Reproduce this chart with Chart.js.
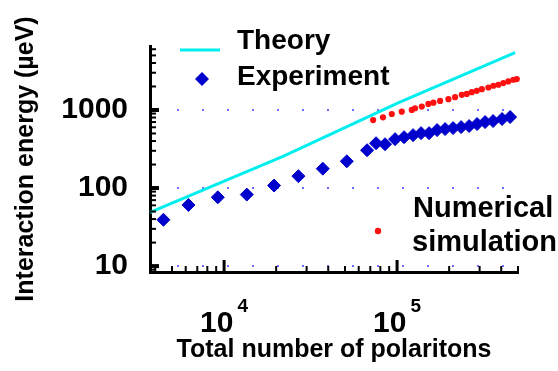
<!DOCTYPE html>
<html lang="en">
<head>
<meta charset="UTF-8">
<title>Interaction energy vs total number of polaritons</title>
<script src="https://cdn.jsdelivr.net/npm/chart.js"></script>
<style>
  html, body { margin: 0; padding: 0; background: #fff; }
  #chart { display: block; }
</style>
</head>
<body>
<canvas id="chart" width="558" height="371"></canvas>
<script>
// values (log-log axes)
const theoryN = [3730, 21900, 101400, 481000];
const theoryE = [48.7, 255, 1230, 5430];

const expN = [4460, 6220, 9200, 13530, 19450, 26890, 37200, 51200,
  67080, 75600, 85210, 97370, 109760, 123740, 137590, 153110, 170280,
  189450, 210720, 234430, 260870, 290000, 322600, 358900, 404500, 450100];
const expE = [39.2, 60.7, 76.1, 82.4, 107.7, 142, 177, 220,
  305, 375, 364, 423, 448, 476, 505, 505, 552,
  569, 586, 603, 622, 660, 700, 721, 766, 812];

const simN = [72700, 82900, 93200, 106400, 121600, 127000, 138900, 151700,
  162200, 177300, 198100, 216400, 236600, 252900, 270300, 289000,
  309000, 337200, 360400, 385200, 411500, 439700, 470000, 492000];
const simE = [743, 805, 888, 951, 1000, 1052, 1104, 1194,
  1242, 1306, 1374, 1459, 1563, 1607, 1691, 1758,
  1849, 1941, 2042, 2103, 2213, 2318, 2439, 2489];

const xMajor = [1e4, 1e5];
const yMajor = [10, 100, 1000];

const FONT = 'Liberation Sans, Arial, sans-serif';
const CYAN = '#00eeee';
const BLUE = '#0000cc';
const RED = '#ff1010';

const pts = (xs, ys) => xs.map((v, i) => ({ x: v, y: ys[i] }));

// 1..9 x 10^n ticks inside the range
function logTicks(min, max) {
  const out = [];
  for (let e = Math.floor(Math.log10(min)); e <= Math.ceil(Math.log10(max)); e++) {
    for (let m = 1; m < 10; m++) {
      const v = m * Math.pow(10, e);
      if (v >= min && v <= max) out.push({ value: v });
    }
  }
  return out;
}

// tick marks point into the plot
const inwardTicks = {
  id: 'inwardTicks',
  afterDraw(chart) {
    const { ctx, chartArea: a } = chart;
    const { x, y } = chart.scales;
    ctx.save();
    ctx.strokeStyle = '#000';
    x.ticks.forEach(t => {
      const px = x.getPixelForValue(t.value);
      const major = xMajor.includes(t.value);
      ctx.lineWidth = major ? 3 : 2;
      ctx.beginPath();
      ctx.moveTo(px, a.bottom);
      ctx.lineTo(px, a.bottom - (major ? 12 : 6));
      ctx.stroke();
    });
    y.ticks.forEach(t => {
      const py = y.getPixelForValue(t.value);
      const major = yMajor.includes(t.value);
      ctx.lineWidth = major ? 4 : 2;
      ctx.beginPath();
      ctx.moveTo(a.left, py);
      ctx.lineTo(a.left + (major ? 9 : 6), py);
      ctx.stroke();
    });

    // 10^n labels under the x axis
    ctx.fillStyle = '#000';
    ctx.textBaseline = 'alphabetic';
    ctx.textAlign = 'left';
    xMajor.forEach(v => {
      const px = x.getPixelForValue(v);
      const exp = String(Math.round(Math.log10(v)));
      ctx.font = 'bold 30px ' + FONT;
      const w1 = ctx.measureText('10').width;
      ctx.font = 'bold 19px ' + FONT;
      const w2 = ctx.measureText(exp).width;
      const x0 = px - (w1 + 4 + w2) / 2;
      ctx.font = 'bold 30px ' + FONT;
      ctx.fillText('10', x0, 332);
      ctx.font = 'bold 19px ' + FONT;
      ctx.fillText(exp, x0 + w1 + 4, 312);
    });
    ctx.restore();
  }
};

// legend entries placed as in the figure
const legendPlugin = {
  id: 'figLegend',
  afterDraw(chart) {
    const ctx = chart.ctx;
    ctx.save();
    ctx.strokeStyle = CYAN;
    ctx.lineWidth = 3;
    ctx.beginPath();
    ctx.moveTo(180, 50);
    ctx.lineTo(220, 50);
    ctx.stroke();

    ctx.fillStyle = BLUE;
    ctx.beginPath();
    ctx.moveTo(202, 72);
    ctx.lineTo(209, 79);
    ctx.lineTo(202, 86);
    ctx.lineTo(195, 79);
    ctx.closePath();
    ctx.fill();

    ctx.fillStyle = RED;
    ctx.beginPath();
    ctx.arc(378, 231, 3.2, 0, Math.PI * 2);
    ctx.fill();

    ctx.fillStyle = '#000';
    ctx.font = 'bold 28px ' + FONT;
    ctx.textBaseline = 'alphabetic';
    ctx.fillText('Theory', 237, 49);
    ctx.fillText('Experiment', 237, 85);
    ctx.font = 'bold 29px ' + FONT;
    ctx.fillText('Numerical', 413, 217);
    ctx.fillText('simulation', 412, 251);
    ctx.restore();
  }
};

new Chart(document.getElementById('chart'), {
  type: 'scatter',
  data: {
    datasets: [
      {
        label: 'Theory',
        data: pts(theoryN, theoryE),
        showLine: true,
        borderColor: CYAN,
        borderWidth: 3,
        pointRadius: 0,
        clip: false
      },
      {
        label: 'Numerical simulation',
        data: pts(simN, simE),
        backgroundColor: RED,
        borderColor: RED,
        pointRadius: 3.1,
        borderWidth: 0,
        clip: false
      },
      {
        label: 'Experiment',
        data: pts(expN, expE),
        pointStyle: 'rectRot',
        backgroundColor: BLUE,
        borderColor: BLUE,
        borderWidth: 1,
        pointRadius: 6.5,
        clip: false
      }
    ]
  },
  options: {
    responsive: false,
    animation: false,
    layout: { padding: { top: 46, right: 40, left: 0, bottom: 0 } },
    plugins: { legend: { display: false }, tooltip: { enabled: false } },
    scales: {
      x: {
        type: 'logarithmic',
        min: 3730,
        max: 500000,
        afterBuildTicks: s => { s.ticks = logTicks(s.min, s.max); },
        afterFit: s => { s.height = 99; },
        grid: { display: false, drawTicks: false },
        border: { display: true, color: '#000', width: 3 },
        ticks: { display: false },
        title: {
          display: true,
          text: 'Total number of polaritons',
          color: '#000',
          font: { family: FONT, size: 25, weight: 'bold' },
          padding: { top: 0, bottom: 6 }
        }
      },
      y: {
        type: 'logarithmic',
        min: 8.4,
        max: 6600,
        afterBuildTicks: s => { s.ticks = logTicks(s.min, s.max); },
        afterFit: s => { s.width = 150; },
        grid: {
          drawTicks: false,
          lineWidth: 2,
          color: c => (c.tick && yMajor.includes(c.tick.value)) ? '#6b6bff' : 'rgba(0,0,0,0)'
        },
        border: { display: true, color: '#000', width: 3, dash: [2, 23] },
        ticks: {
          autoSkip: false,
          padding: 22,
          color: '#000',
          font: { family: FONT, size: 30, weight: 'bold' },
          callback: v => yMajor.includes(v) ? String(v) : ''
        },
        title: {
          display: true,
          text: 'Interaction energy (\u00b5eV)',
          color: '#000',
          font: { family: FONT, size: 25, weight: 'bold' },
          padding: { top: 11, bottom: 0 }
        }
      }
    }
  },
  plugins: [inwardTicks, legendPlugin]
});
</script>
</body>
</html>
